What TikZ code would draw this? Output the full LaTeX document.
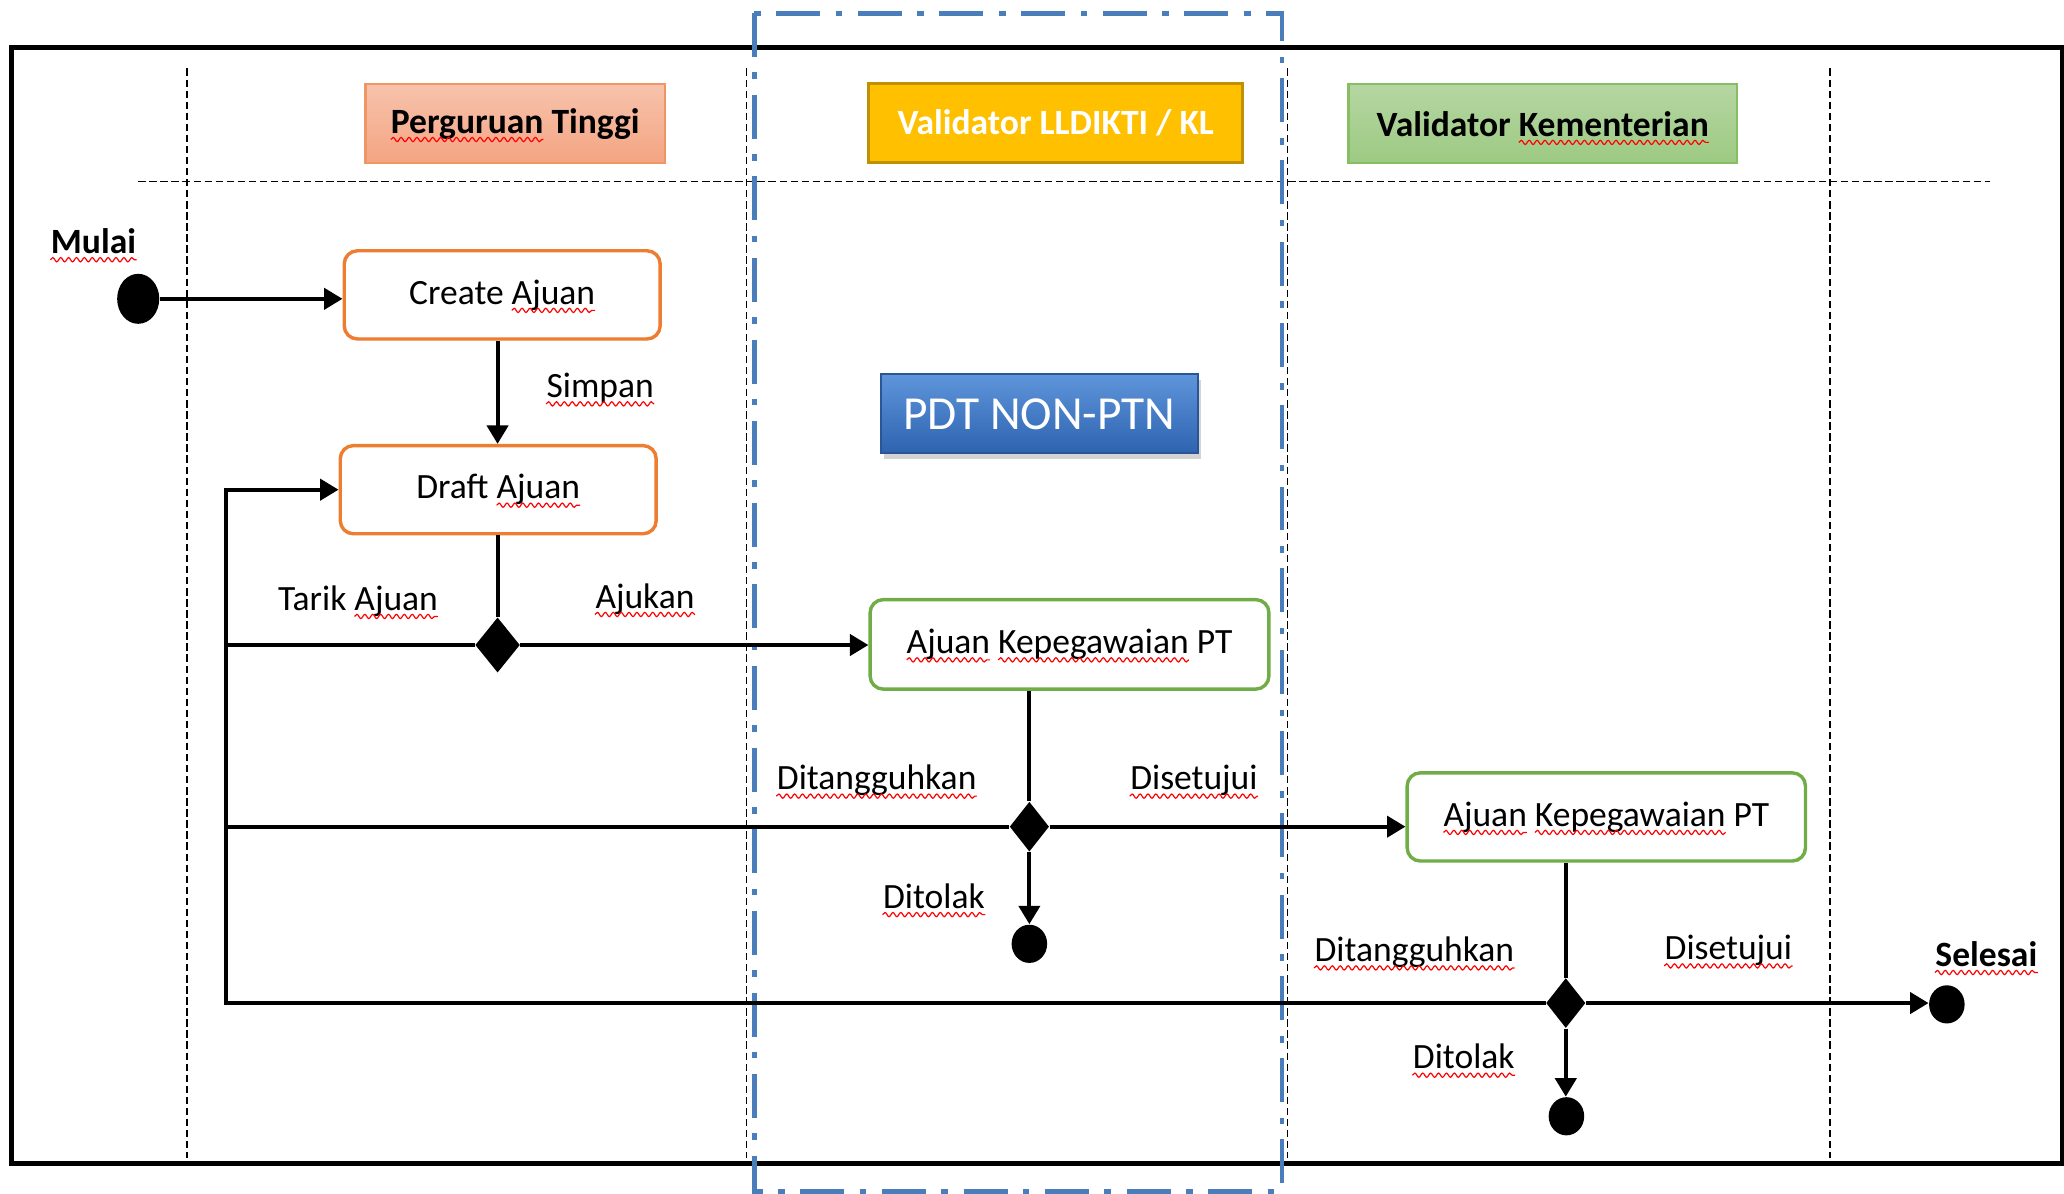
\documentclass[tikz,border=0pt]{standalone}
\usepackage{fontspec}
\setmainfont{Carlito}
\usetikzlibrary{arrows.meta,shapes.geometric,shadows,decorations.pathmorphing}
\newcommand\fsz{\fontsize{13.5pt}{16pt}\selectfont}
% store text widths, measured outside the picture
\newcommand\defw[2]{\setbox0=\hbox{#2}\expandafter\xdef\csname sqw-#1\endcsname{\the\wd0}}
\AtBeginDocument{%
  \defw{PT}{\bfseries\fsz Perguruan Tinggi}%
  \defw{Perg}{\bfseries\fsz Perguruan}%
  \defw{VK}{\bfseries\fsz Validator Kementerian}%
  \defw{Kem}{\bfseries\fsz Kementerian}%
  \defw{CA}{\fsz Create Ajuan}%
  \defw{DA}{\fsz Draft Ajuan}%
  \defw{TA}{\fsz Tarik Ajuan}%
  \defw{Aj}{\fsz Ajuan}%
  \defw{AKP}{\fsz Ajuan Kepegawaian PT}%
  \defw{AK}{\fsz Ajuan Kepegawaian}%
  \defw{Kep}{\fsz Kepegawaian}%
}
% red spell-check squiggle under one word of a node's (centred) text
% #1 node, #2 key of full text, #3 key of text up to and including the word, #4 key of the word
\newcommand\squig[4]{%
  \edef\sqW{\csname sqw-#2\endcsname}%
  \edef\sqA{\csname sqw-#3\endcsname}%
  \edef\sqB{\csname sqw-#4\endcsname}%
  \draw[spell] ([xshift=-0.5*\sqW+\sqA-\sqB,yshift=-2.4pt]#1.base) -- ++(\sqB,0);}
\newcommand\squigall[1]{\draw[spell] ([yshift=-2.4pt]#1.base west) -- ([yshift=-2.4pt]#1.base east);}
\definecolor{ptorange}{HTML}{ED7D31}
\definecolor{vgreen}{HTML}{70AD47}
\definecolor{valblue}{HTML}{4A7EBB}
\definecolor{ptTop}{HTML}{F7C3AC}
\definecolor{ptBot}{HTML}{F4A482}
\definecolor{ptLine}{HTML}{EE9666}
\definecolor{llFill}{HTML}{FFC000}
\definecolor{llLine}{HTML}{BF9000}
\definecolor{kmTop}{HTML}{B5D6A2}
\definecolor{kmBot}{HTML}{9DCA83}
\definecolor{kmLine}{HTML}{86BE63}
\definecolor{pdtTop}{HTML}{5E95DA}
\definecolor{pdtBot}{HTML}{2E63B0}
\definecolor{pdtLine}{HTML}{2A5597}
\begin{document}
\begin{tikzpicture}[x=0.5pt,y=-0.5pt,
  lane/.style={draw=black,line width=0.6pt,dash pattern=on 2.8pt off 1.4pt},
  frame/.style={draw=black,line width=2pt},
  valbox/.style={draw=valblue,line width=1.8pt,dash pattern=on 16.7pt off 5.8pt on 2.5pt off 6pt},
  headbox/.style={font=\bfseries\fsz,inner sep=0pt,line width=0.9pt,minimum height=30pt},
  actbox/.style={rounded corners=5pt,line width=1.3pt,fill=white,inner sep=0pt,font=\fsz},
  decis/.style={diamond,fill=black,draw=none,inner sep=0pt},
  endpt/.style={ellipse,fill=black,draw=none,inner sep=0pt},
  flowline/.style={line width=1.5pt},
  arrowline/.style={flowline,-{Triangle[length=7pt,width=8pt]}},
  lbl/.style={font=\fsz,anchor=base,inner sep=0pt},
  spell/.style={draw=red,line width=0.45pt,decorate,decoration={snake,segment length=3pt,amplitude=0.8pt}}
]
\useasboundingbox (0,0) rectangle (1568,907);
% swimlane guides
\draw[lane] (142,52) -- (142,880);
\draw[lane] (567,52) -- (567,880);
\draw[lane] (978,52) -- (978,880);
\draw[lane] (1390,52) -- (1390,880);
\draw[lane] (105,138) -- (1512,138);
% outer frame
\draw[frame] (9,36) rectangle (1567,884);
% validator region
\draw[valbox] (573,10) rectangle (974,905);

% headers
\node[headbox,draw=ptLine,top color=ptTop,bottom color=ptBot,minimum width=113.8pt] (hPT) at (391.4,94) {Perguruan Tinggi};
\node[headbox,draw=llLine,fill=llFill,text=white,minimum width=142pt,line width=1.2pt] (hLL) at (802,93.3) {Validator LLDIKTI / KL};
\node[headbox,draw=kmLine,top color=kmTop,bottom color=kmBot,minimum width=147.5pt] (hKM) at (1172,94) {Validator Kementerian};
\node[draw=pdtLine,line width=0.8pt,top color=pdtTop,bottom color=pdtBot,text=white,inner sep=0pt,
      minimum width=120.5pt,minimum height=30pt,font=\fontsize{18pt}{21pt}\selectfont,
      drop shadow={opacity=0.35,shadow xshift=1.2pt,shadow yshift=-2pt}] (pdt) at (789.5,314.4) {PDT NON-PTN};

% activities
\node[actbox,draw=ptorange,minimum width=120pt,minimum height=33.5pt] (create) at (381.5,224) {Create Ajuan};
\node[actbox,draw=ptorange,minimum width=120pt,minimum height=33.5pt] (draft) at (378.5,372) {Draft Ajuan};
\node[actbox,draw=vgreen,minimum width=151.5pt,minimum height=34pt] (aj1) at (812.5,489.5) {Ajuan Kepegawaian PT};
\node[actbox,draw=vgreen,minimum width=151.3pt,minimum height=33.5pt] (aj2) at (1220.3,620.6) {Ajuan Kepegawaian PT};

% decisions
\node[decis,minimum width=17pt,minimum height=21pt] (d1) at (378,490) {};
\node[decis,minimum width=15pt,minimum height=19pt] (d2) at (782,628) {};
\node[decis,minimum width=15pt,minimum height=19pt] (d3) at (1189.5,762) {};

% start / end points
\node[endpt,minimum width=16pt,minimum height=19pt] (start) at (105,227) {};
\node[endpt,minimum width=13.5pt,minimum height=14.5pt] (end1) at (782,717) {};
\node[endpt,minimum width=13.5pt,minimum height=14.5pt] (end2) at (1190,848) {};
\node[endpt,minimum width=13.5pt,minimum height=14.5pt] (sel) at (1479,763) {};
\coordinate (lpTop) at (172,372);

% connectors
\draw[arrowline] (start.east) -- (start.east -| create.west);
\draw[arrowline] (create.south -| d1.north) -- (draft.north -| d1.north);
\draw[flowline] (draft.south -| d1.north) -- (d1.north);
\draw[arrowline] (d1.east) -- (d1.east -| aj1.west);
\draw[flowline] (d1.west) -- (d1.west -| lpTop);
\draw[arrowline] (d3.west) -| (lpTop) -- (draft.west);
\draw[flowline] (d2.west) -- (d2.west -| lpTop);
\draw[flowline] (aj1.south -| d2.north) -- (d2.north);
\draw[arrowline] (d2.east) -- (d2.east -| aj2.west);
\draw[arrowline] (d2.south) -- (d2.south |- end1.north);
\draw[flowline] (aj2.south -| d3.north) -- (d3.north);
\draw[arrowline] (d3.east) -- (d3.east -| sel.west);
\draw[arrowline] (d3.south) -- (d3.south |- end2.north);

% labels
\node[lbl,font=\bfseries\fsz] (tMulai) at (71,192.5) {Mulai};
\node[lbl] (tSimpan) at (456,302) {Simpan};
\node[lbl] (tTarik) at (272,463.5) {Tarik Ajuan};
\node[lbl] (tAjukan) at (490,462) {Ajukan};
\node[lbl] (tTang1) at (666,600) {Ditangguhkan};
\node[lbl] (tSetuju1) at (907,600) {Disetujui};
\node[lbl] (tTolak1) at (709.5,690) {Ditolak};
\node[lbl] (tTang2) at (1074.5,730.5) {Ditangguhkan};
\node[lbl] (tSetuju2) at (1313,729) {Disetujui};
\node[lbl,font=\bfseries\fsz] (tSelesai) at (1509,734) {Selesai};
\node[lbl] (tTolak2) at (1112,812) {Ditolak};

% spell-check squiggles
\squig{hPT}{PT}{Perg}{Perg}
\squig{hKM}{VK}{VK}{Kem}
\squig{create}{CA}{CA}{Aj}
\squig{draft}{DA}{DA}{Aj}
\squig{aj1}{AKP}{Aj}{Aj}
\squig{aj1}{AKP}{AK}{Kep}
\squig{aj2}{AKP}{Aj}{Aj}
\squig{aj2}{AKP}{AK}{Kep}
\squig{tTarik}{TA}{TA}{Aj}
\squigall{tMulai}
\squigall{tSimpan}
\squigall{tAjukan}
\squigall{tTang1}
\squigall{tSetuju1}
\squigall{tTolak1}
\squigall{tTang2}
\squigall{tSetuju2}
\squigall{tSelesai}
\squigall{tTolak2}
\end{tikzpicture}
\end{document}
